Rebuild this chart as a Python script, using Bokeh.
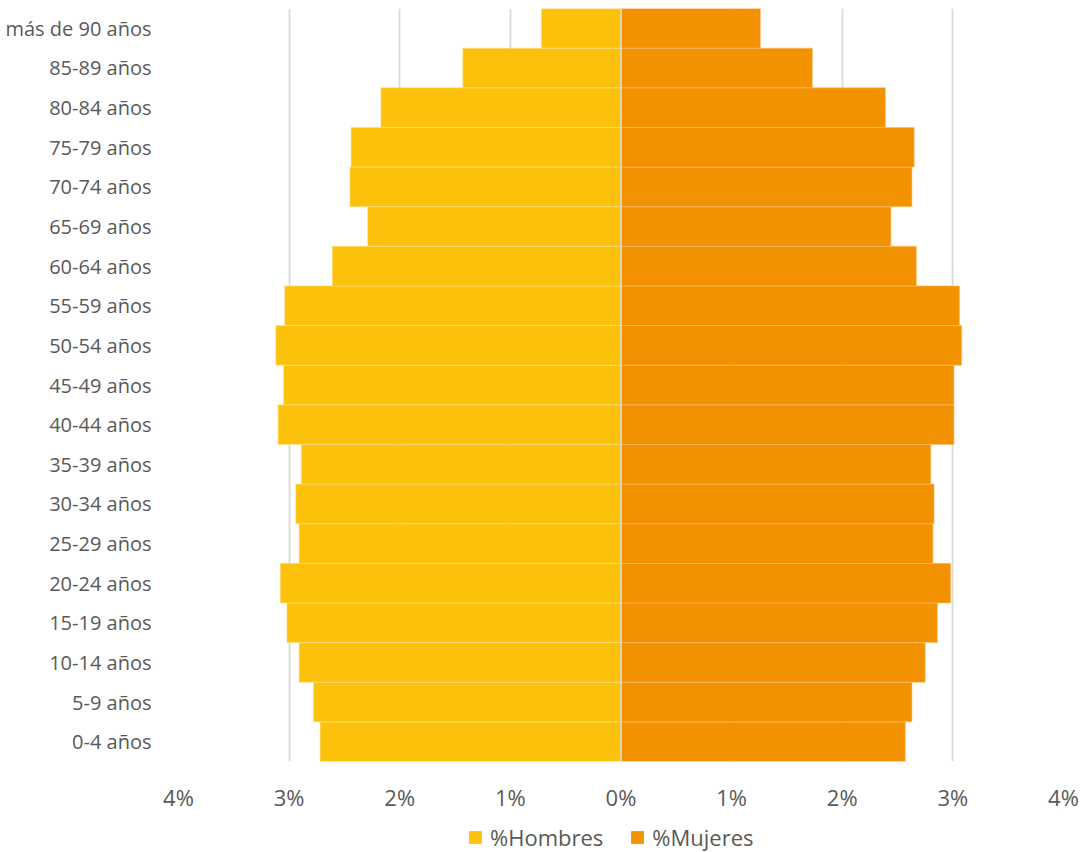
from bokeh.plotting import figure
from bokeh.layouts import column
from bokeh.models import (ColumnDataSource, FactorRange, Range1d, FixedTicker,
                          CustomJSTickFormatter, Legend, LegendItem, Span)
from bokeh.embed import file_html
from bokeh.resources import INLINE

categorias = ["0-4 años", "5-9 años", "10-14 años", "15-19 años", "20-24 años",
              "25-29 años", "30-34 años", "35-39 años", "40-44 años", "45-49 años",
              "50-54 años", "55-59 años", "60-64 años", "65-69 años", "70-74 años",
              "75-79 años", "80-84 años", "85-89 años", "más de 90 años"]
hombres = [2.72, 2.78, 2.91, 3.02, 3.08, 2.91, 2.94, 2.89, 3.10, 3.05,
           3.12, 3.04, 2.61, 2.29, 2.45, 2.44, 2.17, 1.43, 0.72]
mujeres = [2.57, 2.63, 2.75, 2.86, 2.98, 2.82, 2.83, 2.80, 3.01, 3.01,
           3.08, 3.06, 2.67, 2.44, 2.63, 2.65, 2.39, 1.73, 1.26]
ticks = [-4, -3, -2, -1, 0, 1, 2, 3, 4]
series = ["%Hombres", "%Mujeres"]

FONT = "Open Sans"
GRAY = "#595959"
YELLOW = "#FCC10A"
ORANGE = "#F39200"

src = ColumnDataSource(dict(cat=categorias,
                            h=[-v for v in hombres],
                            m=mujeres))

p = figure(width=1083, height=815, output_backend="svg", toolbar_location=None,
           y_range=FactorRange(factors=categorias, range_padding=0),
           x_range=Range1d(-4, 4),
           min_border_left=178, min_border_right=20, min_border_top=8,
           min_border_bottom=54)
p.outline_line_color = None

p.hbar(y="cat", left="h", right=0, height=1.0, source=src,
       fill_color=YELLOW, line_color="#FFE08A", line_width=0.6)
p.hbar(y="cat", left=0, right="m", height=1.0, source=src,
       fill_color=ORANGE, line_color="#F9C070", line_width=0.6)

p.add_layout(Span(location=0, dimension="height", line_color="#dddddd", line_width=1.5))

p.xaxis.ticker = FixedTicker(ticks=ticks)
p.xaxis.formatter = CustomJSTickFormatter(code="return Math.abs(tick) + '%';")
for ax in (p.xaxis, p.yaxis):
    ax.axis_line_color = None
    ax.major_tick_line_color = None
    ax.minor_tick_line_color = None
    ax.major_label_text_color = GRAY
    ax.major_label_text_font = FONT
p.yaxis.major_label_text_font_size = "20px"
p.xaxis.major_label_text_font_size = "22px"
p.xaxis.major_label_standoff = 14
p.yaxis.major_label_standoff = 21

p.ygrid.grid_line_color = None
p.xgrid.grid_line_color = "#d9d9d9"
p.xgrid.grid_line_width = 1.8

# legend strip below the chart (its glyph renderers hold one out-of-view bar)
lf = figure(width=1083, height=37, output_backend="svg", toolbar_location=None,
            x_range=Range1d(0, 1), y_range=Range1d(0, 1),
            min_border_left=0, min_border_right=0, min_border_top=0,
            min_border_bottom=0)
lf.axis.visible = False
lf.grid.grid_line_color = None
lf.outline_line_color = None
dummy = ColumnDataSource(dict(y=[10], l=[10], r=[11]))
g1 = lf.hbar(y="y", left="l", right="r", height=1, source=dummy,
             fill_color=YELLOW, line_color=None)
g2 = lf.hbar(y="y", left="l", right="r", height=1, source=dummy,
             fill_color=ORANGE, line_color=None)
legend = Legend(items=[LegendItem(label=series[0], renderers=[g1]),
                       LegendItem(label=series[1], renderers=[g2])],
                orientation="horizontal", location=(289, 0),
                label_text_font=FONT, label_text_font_size="22px",
                label_text_color=GRAY, glyph_width=16, glyph_height=16,
                spacing=26, label_standoff=7, border_line_color=None,
                background_fill_alpha=0, padding=0, margin=0)
lf.add_layout(legend, "center")

layout = column(p, lf, spacing=0)
open("out.html", "w").write(file_html(layout, INLINE))
